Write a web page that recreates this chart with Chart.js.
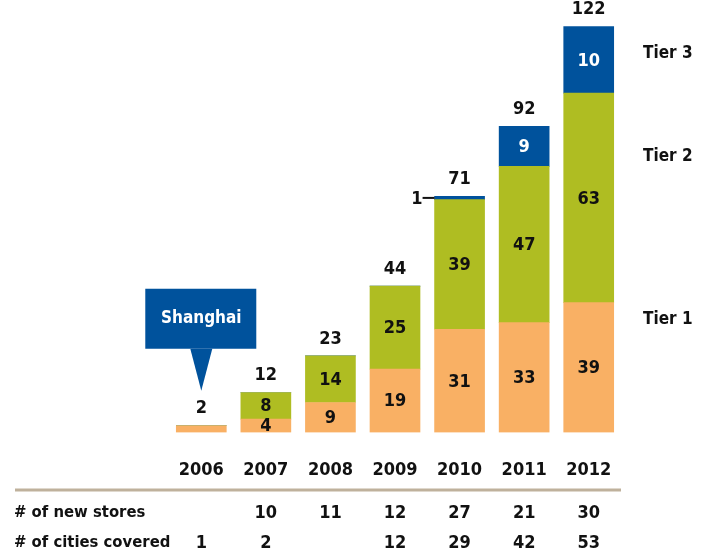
<!DOCTYPE html>
<html>
<head>
<meta charset="utf-8">
<script src="https://cdn.jsdelivr.net/npm/chart.js@4/dist/chart.umd.min.js"></script>
<style>
  html, body { margin: 0; padding: 0; background: #fff; }
  #wrap { width: 708px; height: 560px; position: relative; }
</style>
</head>
<body>
<div id="wrap"><canvas id="grafico" width="708" height="560"></canvas></div>
<script>
// datos
var anios = ['2006', '2007', '2008', '2009', '2010', '2011', '2012'];
var tier1 = [2, 4, 9, 19, 31, 33, 39];
var tier2 = [0, 8, 14, 25, 39, 47, 63];
// alto dibujado del tier 3 (en el original la barra llega al total)
var tier3 = [0, 0, 0, 0, 1, 12, 20];
// numero impreso dentro del tier 3
var tier3Etiqueta = [0, 0, 0, 0, 1, 9, 10];
var totales = [2, 12, 23, 44, 71, 92, 122];
var nuevasTiendas = ['', '10', '11', '12', '27', '21', '30'];
var ciudades = ['1', '2', '', '12', '29', '42', '53'];
var nombresTier = ['Tier 1', 'Tier 2', 'Tier 3'];

var fuente = '"DejaVu Sans Condensed", "DejaVu Sans", sans-serif';
var naranja = '#F9B064';
var verde = '#AFBD22';
var azul = '#00529C';

// etiquetas, tabla y globo de Shanghai
var extras = {
  id: 'extras',
  afterDatasetsDraw: function (chart) {
    var ctx = chart.ctx;
    var x = chart.scales.x;
    var y = chart.scales.y;
    ctx.save();
    ctx.font = 'bold 18px ' + fuente;
    ctx.textAlign = 'center';
    ctx.textBaseline = 'middle';

    // valores dentro de cada segmento
    chart.data.datasets.forEach(function (ds, d) {
      var meta = chart.getDatasetMeta(d);
      var textos = d == 2 ? tier3Etiqueta : ds.data;
      meta.data.forEach(function (bar, i) {
        var v = textos[i];
        if (!v) return;
        var alto = Math.abs(bar.base - bar.y);
        if (alto >= 12) {
          ctx.fillStyle = d == 2 ? '#fff' : '#111';
          ctx.fillText(v, bar.x, (bar.y + bar.base) / 2 + 1);
        } else if (d > 0) {
          var izq = bar.x - bar.width / 2;
          var cy = (bar.y + bar.base) / 2;
          ctx.strokeStyle = '#111';
          ctx.lineWidth = 2;
          ctx.beginPath();
          ctx.moveTo(izq - 12, cy);
          ctx.lineTo(izq, cy);
          ctx.stroke();
          ctx.fillStyle = '#111';
          ctx.textAlign = 'right';
          ctx.fillText(v, izq - 12, cy + 1);
          ctx.textAlign = 'center';
        }
      });
    });

    // totales encima de cada barra
    ctx.fillStyle = '#111';
    totales.forEach(function (t, i) {
      ctx.fillText(t, x.getPixelForValue(i), y.getPixelForValue(t) - 17);
    });

    // nombres de los tiers a la derecha
    var posTier = [34, 83, 114];
    ctx.font = 'bold 17px ' + fuente;
    ctx.textAlign = 'left';
    nombresTier.forEach(function (n, k) {
      ctx.fillText(n, chart.chartArea.right + 22, y.getPixelForValue(posTier[k]));
    });

    // globo Shanghai
    var cx = x.getPixelForValue(0);
    var punta = y.getPixelForValue(totales[0]) - 35;
    var abajo = punta - 42;
    ctx.fillStyle = azul;
    ctx.fillRect(cx - 56, abajo - 60, 111, 60);
    ctx.beginPath();
    ctx.moveTo(cx - 11, abajo);
    ctx.lineTo(cx + 11, abajo);
    ctx.lineTo(cx, punta);
    ctx.closePath();
    ctx.fill();
    ctx.fillStyle = '#fff';
    ctx.textAlign = 'center';
    ctx.fillText('Shanghai', cx, abajo - 30);

    // tabla inferior
    ctx.strokeStyle = '#BFB19C';
    ctx.lineWidth = 3;
    ctx.beginPath();
    ctx.moveTo(15, 490);
    ctx.lineTo(chart.chartArea.right, 490);
    ctx.stroke();

    ctx.fillStyle = '#111';
    ctx.font = 'bold 16.5px ' + fuente;
    ctx.textAlign = 'left';
    ctx.fillText('# of new stores', 14, 513);
    ctx.fillText('# of cities covered', 14, 543);
    ctx.font = 'bold 18px ' + fuente;
    ctx.textAlign = 'center';
    anios.forEach(function (a, i) {
      var px = x.getPixelForValue(i);
      if (nuevasTiendas[i]) ctx.fillText(nuevasTiendas[i], px, 513);
      if (ciudades[i]) ctx.fillText(ciudades[i], px, 543);
    });
    ctx.restore();
  }
};

var ctx = document.getElementById('grafico').getContext('2d');
new Chart(ctx, {
  type: 'bar',
  data: {
    labels: anios,
    datasets: [
      { label: 'Tier 1', data: tier1, backgroundColor: naranja },
      { label: 'Tier 2', data: tier2, backgroundColor: verde },
      { label: 'Tier 3', data: tier3, backgroundColor: azul }
    ]
  },
  options: {
    responsive: false,
    animation: false,
    devicePixelRatio: 1,
    layout: { padding: { left: 169, right: 87, top: 0, bottom: 60 } },
    datasets: { bar: { barThickness: 50, borderWidth: 0 } },
    plugins: { legend: { display: false }, tooltip: { enabled: false } },
    scales: {
      x: {
        stacked: true,
        grid: { display: false },
        border: { display: false },
        ticks: { padding: 19, color: '#111', font: { family: fuente, size: 18, weight: 'bold' } }
      },
      y: {
        stacked: true,
        display: false,
        min: 0,
        max: 130
      }
    }
  },
  plugins: [extras]
});
</script>
</body>
</html>
